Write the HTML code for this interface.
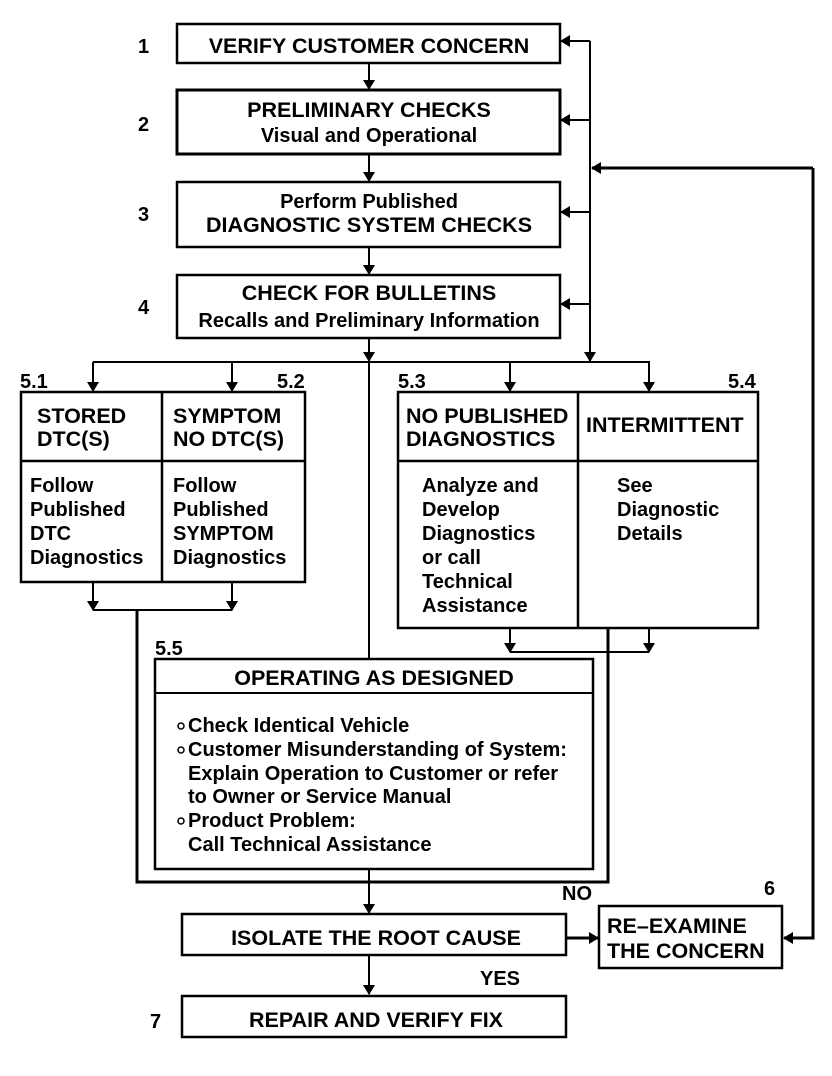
<!DOCTYPE html>
<html><head><meta charset="utf-8"><style>
html,body{margin:0;padding:0;background:#fff}
svg{display:block}
text{font-family:"Liberation Sans",Arial,sans-serif;font-weight:bold;fill:#000}
</style></head><body>
<svg width="832" height="1076" viewBox="0 0 832 1076" xmlns="http://www.w3.org/2000/svg">
<defs>
<marker id="a" markerWidth="10" markerHeight="12" refX="9" refY="6" orient="auto" markerUnits="userSpaceOnUse">
<path d="M0,0 L10,6 L0,12 z" fill="#000"/></marker>
</defs>
<g fill="none" stroke="#000">
<rect x="177" y="24" width="383" height="39" stroke-width="2.5"/>
<rect x="177" y="90" width="383" height="64" stroke-width="3"/>
<rect x="177" y="182" width="383" height="65" stroke-width="2.5"/>
<rect x="177" y="275" width="383" height="63" stroke-width="2.5"/>
<g stroke-width="2">
<line x1="369" y1="63" x2="369" y2="89" marker-end="url(#a)"/>
<line x1="369" y1="154" x2="369" y2="181" marker-end="url(#a)"/>
<line x1="369" y1="247" x2="369" y2="274" marker-end="url(#a)"/>
<line x1="369" y1="338" x2="369" y2="361" marker-end="url(#a)"/>
<line x1="369" y1="362" x2="369" y2="659"/>
<line x1="590" y1="41" x2="590" y2="361" marker-end="url(#a)"/>
<line x1="590" y1="41" x2="561" y2="41" marker-end="url(#a)"/>
<line x1="590" y1="120" x2="561" y2="120" marker-end="url(#a)"/>
<line x1="590" y1="212" x2="561" y2="212" marker-end="url(#a)"/>
<line x1="590" y1="304" x2="561" y2="304" marker-end="url(#a)"/>
<line x1="93" y1="362" x2="650" y2="362"/>
<line x1="93" y1="362" x2="93" y2="391" marker-end="url(#a)"/>
<line x1="232" y1="362" x2="232" y2="391" marker-end="url(#a)"/>
<line x1="510" y1="362" x2="510" y2="391" marker-end="url(#a)"/>
<line x1="649" y1="362" x2="649" y2="391" marker-end="url(#a)"/>
<line x1="93" y1="583" x2="93" y2="610" marker-end="url(#a)"/>
<line x1="232" y1="583" x2="232" y2="610" marker-end="url(#a)"/>
<line x1="93" y1="610" x2="232" y2="610"/>
<line x1="510" y1="628" x2="510" y2="652" marker-end="url(#a)"/>
<line x1="649" y1="628" x2="649" y2="652" marker-end="url(#a)"/>
<line x1="510" y1="652" x2="649" y2="652"/>
<line x1="369" y1="869" x2="369" y2="913" marker-end="url(#a)"/>
<line x1="369" y1="955" x2="369" y2="994" marker-end="url(#a)"/>
</g>
<g stroke-width="3">
<polyline points="813,168 813,938 784,938" marker-end="url(#a)"/>
<line x1="813" y1="168" x2="592" y2="168" marker-end="url(#a)"/>
<polyline points="137,610 137,882 608,882 608,628"/>
<line x1="566" y1="938" x2="598" y2="938" marker-end="url(#a)"/>
</g>
<rect x="21" y="392" width="284" height="190" stroke-width="2.5"/>
<line x1="162" y1="392" x2="162" y2="582" stroke-width="2.5"/>
<line x1="21" y1="461" x2="305" y2="461" stroke-width="2.5"/>
<rect x="398" y="392" width="360" height="236" stroke-width="2.5"/>
<line x1="578" y1="392" x2="578" y2="628" stroke-width="2.5"/>
<line x1="398" y1="461" x2="758" y2="461" stroke-width="2.5"/>
<rect x="155" y="659" width="438" height="210" stroke-width="2.5"/>
<line x1="155" y1="693" x2="593" y2="693" stroke-width="2"/>
<rect x="182" y="914" width="384" height="41" stroke-width="2.5"/>
<rect x="182" y="996" width="384" height="41" stroke-width="2.5"/>
<rect x="599" y="906" width="183" height="62" stroke-width="2.5"/>
</g>
<g font-size="21.5" text-anchor="middle">
<text x="369" y="53">VERIFY CUSTOMER CONCERN</text>
<text x="369" y="117">PRELIMINARY CHECKS</text>
<text x="369" y="142" font-size="20">Visual and Operational</text>
<text x="369" y="208" font-size="20">Perform Published</text>
<text x="369" y="232">DIAGNOSTIC SYSTEM CHECKS</text>
<text x="369" y="300">CHECK FOR BULLETINS</text>
<text x="369" y="327" font-size="20">Recalls and Preliminary Information</text>
<text x="374" y="685">OPERATING AS DESIGNED</text>
<text x="376" y="945">ISOLATE THE ROOT CAUSE</text>
<text x="376" y="1027">REPAIR AND VERIFY FIX</text>
</g>
<g font-size="21.5">
<text x="37" y="423">STORED</text>
<text x="37" y="446">DTC(S)</text>
<text x="173" y="423">SYMPTOM</text>
<text x="173" y="446">NO DTC(S)</text>
<text x="406" y="423">NO PUBLISHED</text>
<text x="406" y="446">DIAGNOSTICS</text>
<text x="586" y="432">INTERMITTENT</text>
<text x="607" y="933">RE–EXAMINE</text>
<text x="607" y="958">THE CONCERN</text>
</g>
<g font-size="20">
<text x="30" y="492">Follow</text>
<text x="30" y="516">Published</text>
<text x="30" y="540">DTC</text>
<text x="30" y="564">Diagnostics</text>
<text x="173" y="492">Follow</text>
<text x="173" y="516">Published</text>
<text x="173" y="540">SYMPTOM</text>
<text x="173" y="564">Diagnostics</text>
<text x="422" y="492">Analyze and</text>
<text x="422" y="516">Develop</text>
<text x="422" y="540">Diagnostics</text>
<text x="422" y="564">or call</text>
<text x="422" y="588">Technical</text>
<text x="422" y="612">Assistance</text>
<text x="617" y="492">See</text>
<text x="617" y="516">Diagnostic</text>
<text x="617" y="540">Details</text>
<text x="188" y="732">Check Identical Vehicle</text>
<text x="188" y="756">Customer Misunderstanding of System:</text>
<text x="188" y="780">Explain Operation to Customer or refer</text>
<text x="188" y="803">to Owner or Service Manual</text>
<text x="188" y="827">Product Problem:</text>
<text x="188" y="851">Call Technical Assistance</text>
<text x="138" y="53">1</text>
<text x="138" y="131">2</text>
<text x="138" y="221">3</text>
<text x="138" y="314">4</text>
<text x="150" y="1028">7</text>
<text x="20" y="388">5.1</text>
<text x="277" y="388">5.2</text>
<text x="398" y="388">5.3</text>
<text x="728" y="388">5.4</text>
<text x="155" y="655">5.5</text>
<text x="562" y="900">NO</text>
<text x="764" y="895">6</text>
<text x="480" y="985">YES</text>
</g>
<g fill="none" stroke="#000" stroke-width="1.5">
<circle cx="181" cy="726" r="3"/>
<circle cx="181" cy="750" r="3"/>
<circle cx="181" cy="821" r="3"/>
</g>
</svg>
</body></html>
